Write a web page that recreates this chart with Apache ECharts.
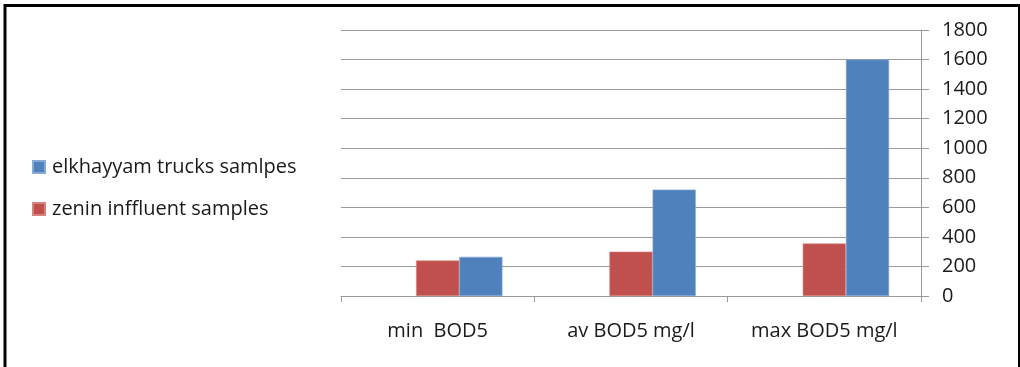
<!DOCTYPE html>
<html>
<head>
<meta charset="utf-8">
<script src="https://cdn.jsdelivr.net/npm/echarts@6/dist/echarts.min.js"></script>
<style>
  html, body { margin: 0; padding: 0; background: #fff; }
  #chart { width: 1020px; height: 367px; }
</style>
</head>
<body>
<div id="chart"></div>
<script>
// BOD5 readings for the two sampling points
const categories = ['min  BOD5', 'av BOD5 mg/l', 'max BOD5 mg/l'];
const zeninInfluent = [240, 300, 355];
const elkhayyamTrucks = [265, 720, 1600];
const seriesNames = ['elkhayyam trucks samlpes', 'zenin inffluent samples'];

const FONT = '"Open Sans", Lato, sans-serif';
const TEXT_SIZE = 20;
const GRID_GRAY = '#9a9a9a';

const chart = echarts.init(document.getElementById('chart'), null, { renderer: 'canvas' });

chart.setOption({
  backgroundColor: '#ffffff',
  animation: false,
  textStyle: { fontFamily: FONT },
  graphic: [{
    type: 'rect',
    shape: { x: 5, y: 5.5, width: 1014.5, height: 420 },
    style: { fill: 'none', stroke: '#000', lineWidth: 3 },
    silent: true
  }],
  legend: {
    orient: 'vertical',
    left: 32,
    top: 157,
    padding: 0,
    itemWidth: 12,
    itemHeight: 12,
    itemGap: 22,
    icon: 'rect',
    data: seriesNames,
    textStyle: {
      fontFamily: FONT, fontSize: TEXT_SIZE, lineHeight: 20, color: '#1a1a1a',
      padding: [0, 0, 0, 2]
    }
  },
  grid: { left: 341, right: 99, top: 30, bottom: 71, containLabel: false },
  xAxis: {
    type: 'category',
    data: categories,
    boundaryGap: true,
    axisLine: { show: true, lineStyle: { color: GRID_GRAY, width: 1 } },
    axisTick: { show: true, length: 6, lineStyle: { color: GRID_GRAY } },
    axisLabel: { margin: 25, fontFamily: FONT, fontSize: TEXT_SIZE, color: '#1a1a1a' }
  },
  yAxis: {
    type: 'value',
    position: 'right',
    min: 0,
    max: 1800,
    interval: 200,
    axisLine: { show: true, lineStyle: { color: GRID_GRAY, width: 1 } },
    axisTick: { show: true, inside: false, length: 8, lineStyle: { color: GRID_GRAY } },
    axisLabel: {
      margin: 21, fontFamily: FONT, fontSize: TEXT_SIZE, color: '#1a1a1a', align: 'left',
      formatter: (v) => String(v)
    },
    splitLine: { show: true, lineStyle: { color: GRID_GRAY, width: 1 } }
  },
  series: [
    {
      // empty leading slot of each cluster
      name: '',
      type: 'bar',
      data: [null, null, null],
      barGap: '0%',
      barCategoryGap: '33%'
    },
    {
      name: seriesNames[1],
      type: 'bar',
      data: zeninInfluent,
      barGap: '0%',
      barCategoryGap: '33%',
      itemStyle: { color: '#C0504D', borderColor: '#D5837F', borderWidth: 0.6 }
    },
    {
      name: seriesNames[0],
      type: 'bar',
      data: elkhayyamTrucks,
      barGap: '0%',
      barCategoryGap: '33%',
      itemStyle: { color: '#4F81BD', borderColor: '#86A9D6', borderWidth: 0.6 }
    }
  ]
});
</script>
</body>
</html>
